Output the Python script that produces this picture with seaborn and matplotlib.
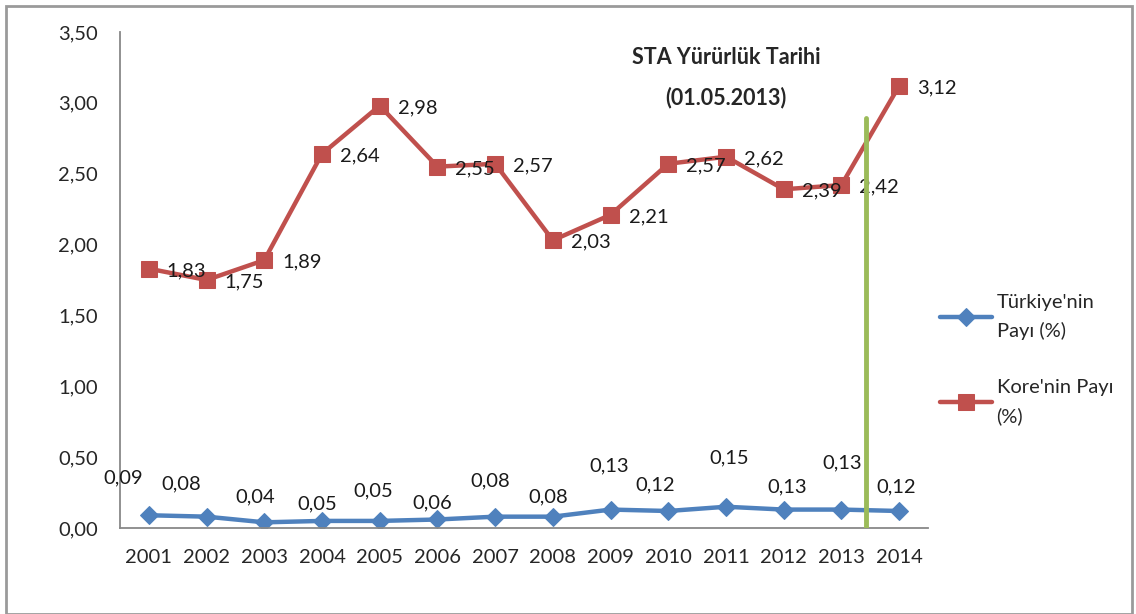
import numpy as np
import pandas as pd
import matplotlib
matplotlib.use('Agg')
from matplotlib import pyplot as plt
from matplotlib.patches import Rectangle
from matplotlib.ticker import FixedLocator, FuncFormatter
import seaborn as sns

years = ['2001', '2002', '2003', '2004', '2005', '2006', '2007',
         '2008', '2009', '2010', '2011', '2012', '2013', '2014']
turkiye = [0.09, 0.08, 0.04, 0.05, 0.05, 0.06, 0.08, 0.08, 0.13, 0.12, 0.15, 0.13, 0.13, 0.12]
kore = [1.83, 1.75, 1.89, 2.64, 2.98, 2.55, 2.57, 2.03, 2.21, 2.57, 2.62, 2.39, 2.42, 3.12]
series_names = ["Türkiye'nin\nPayı (%)", "Kore'nin Payı\n(%)"]
note_lines = ['STA Yürürlük Tarihi', '(01.05.2013)']
sta_date_pos = 12.43   # 01.05.2013 between the 2013 and 2014 categories
sta_line_top = 2.89

# label offsets for the Turkey series (pixels)
tr_dx = [-26, -25, -9, -5, -6, -5, -5, -5, -1, -13, 3, 3, 1, -3]
tr_dy = [37, 33, 25, 17, 30, 17, 36, 20, 44, 26, 49, 23, 47, 24]

sns.set_style('white')
plt.rcParams['font.family'] = ['Lato', 'DejaVu Sans']

blue = '#4F81BD'
red = '#C0504D'
green = '#9BBB59'
fs = 14.5

df = pd.DataFrame({'x': np.arange(len(years)), 'tr': turkiye, 'kr': kore})

fig = plt.figure(figsize=(11.36, 6.14), dpi=100)
ax = fig.add_axes([120 / 1136, 86 / 614, 808 / 1136, 496 / 614])

sns.lineplot(data=df, x='x', y='tr', ax=ax, color=blue, lw=3.2, marker='D',
             markersize=9, markeredgecolor=blue, label=series_names[0])
sns.lineplot(data=df, x='x', y='kr', ax=ax, color=red, lw=3.2, marker='s',
             markersize=11, markeredgecolor=red, label=series_names[1])

# data labels
for i, v in enumerate(kore):
    ax.annotate(f'{v:.2f}'.replace('.', ','), (i, v), xytext=(18, -2),
                textcoords='offset pixels', ha='left', va='center', fontsize=fs, color='#1a1a1a')
for i, v in enumerate(turkiye):
    ax.annotate(f'{v:.2f}'.replace('.', ','), (i, v), xytext=(tr_dx[i], tr_dy[i]),
                textcoords='offset pixels', ha='center', va='center', fontsize=fs, color='#1a1a1a')

# STA date line
ax.plot([sta_date_pos, sta_date_pos], [0, sta_line_top], color=green, lw=3.5, zorder=5)
ax.text(10, 3.32, note_lines[0], ha='center', va='center', fontsize=15.5, fontweight='bold')
ax.text(10, 3.04, note_lines[1], ha='center', va='center', fontsize=15.5, fontweight='bold')

ax.set_xlim(-0.5, len(years) - 0.5)
ax.set_ylim(0, 3.5)
ax.set_xticks(np.arange(len(years)))
ax.set_xticklabels(years)
ax.xaxis.set_minor_locator(FixedLocator(np.arange(len(years) + 1) - 0.5))
ax.set_yticks(np.arange(0, 3.51, 0.5))
ax.yaxis.set_major_formatter(FuncFormatter(lambda v, p: f'{v:.2f}'.replace('.', ',')))
ax.tick_params(axis='x', which='major', length=0, pad=15, labelsize=fs)
ax.tick_params(axis='x', which='minor', length=7, color='#888888', direction='out')
ax.tick_params(axis='y', length=6, color='#888888', direction='out', pad=10, labelsize=fs)
ax.set_xlabel('')
ax.set_ylabel('')
for s in ['top', 'right']:
    ax.spines[s].set_visible(False)
for s in ['left', 'bottom']:
    ax.spines[s].set_color('#888888')
    ax.spines[s].set_linewidth(1.3)

leg = ax.legend(loc='upper left', bbox_to_anchor=(922 / 1136, 338 / 614),
                bbox_transform=fig.transFigure, frameon=False, fontsize=fs,
                handlelength=2.6, handletextpad=0.2, labelspacing=1.9)
for t in leg.get_texts():
    t.set_linespacing(1.75)

fig.patches.append(Rectangle((6 / 1136, 0), 1126 / 1136, 608 / 614, transform=fig.transFigure,
                             fill=False, edgecolor='#9a9a9a', lw=2))

fig.savefig('out.png', dpi=100)
